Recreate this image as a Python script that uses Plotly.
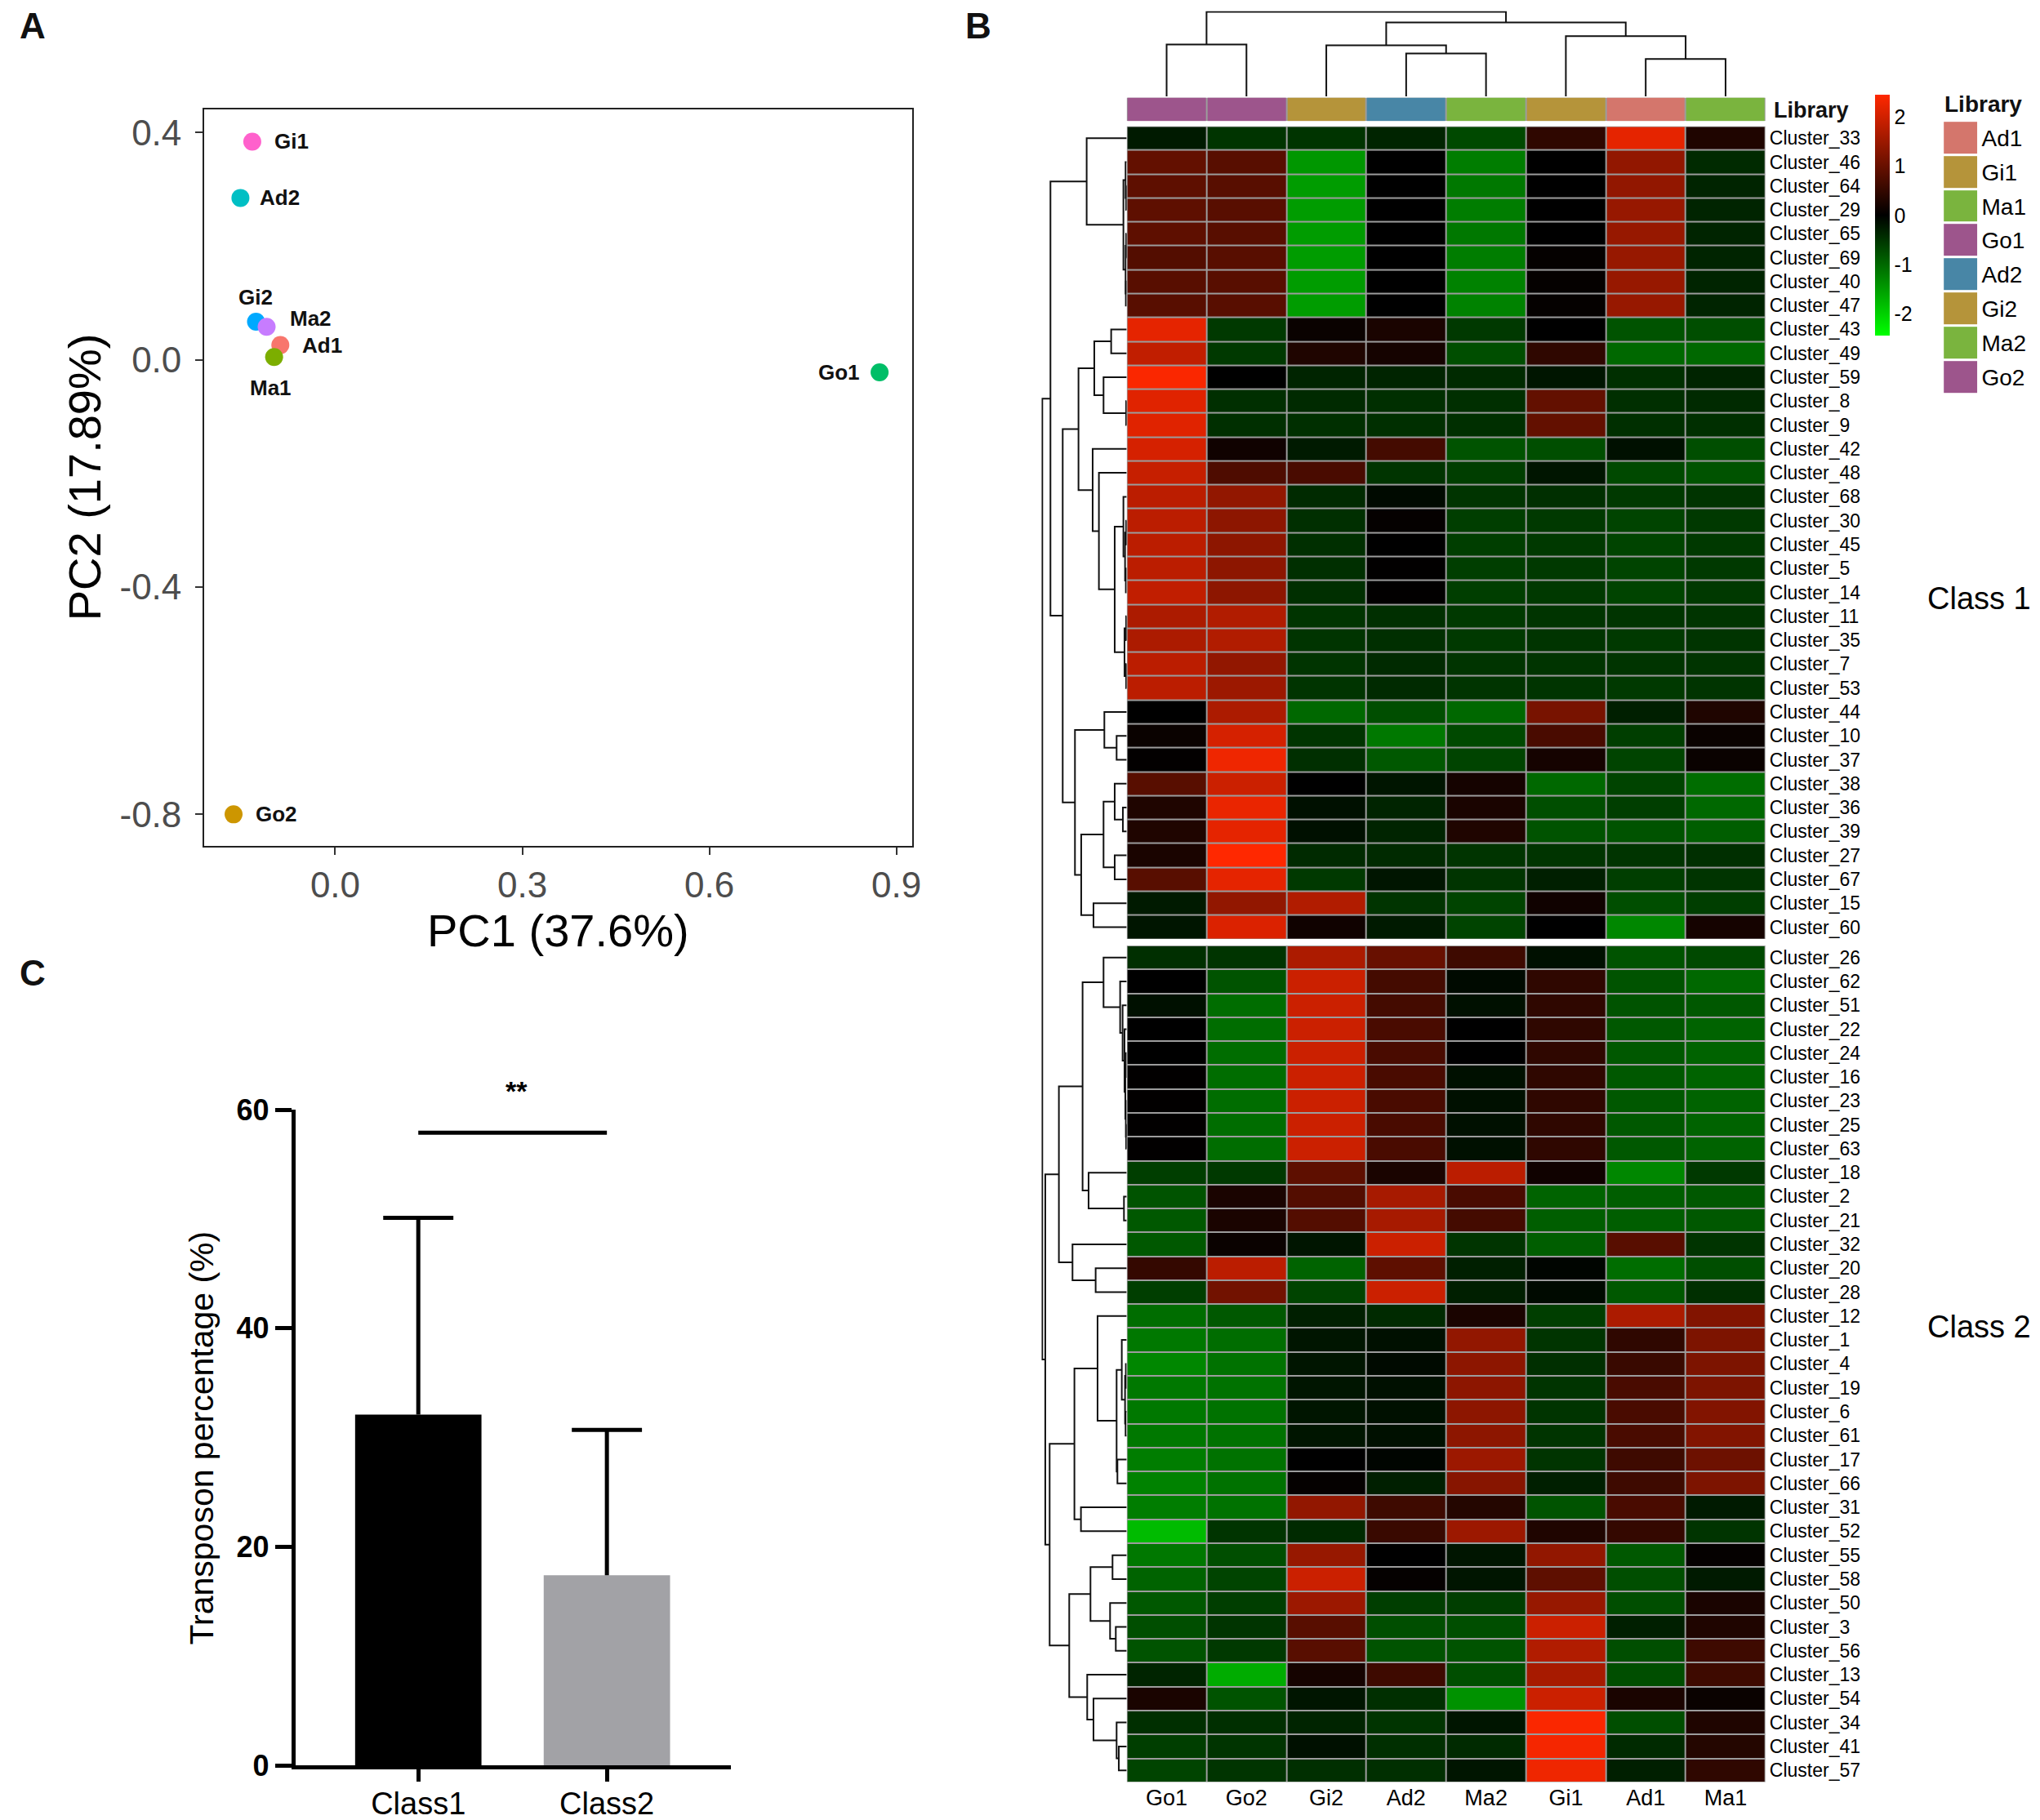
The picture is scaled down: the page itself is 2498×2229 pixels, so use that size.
import plotly.graph_objects as go

# ---------------------------------------------------------------- data

# A: PCA of the eight libraries
pca_names = ["Gi1", "Ad2", "Gi2", "Ma2", "Ad1", "Ma1", "Go1", "Go2"]
pc1 = [-0.133, -0.152, -0.127, -0.110, -0.088, -0.098, 0.873, -0.163]
pc2 = [0.384, 0.285, 0.067, 0.058, 0.026, 0.005, -0.022, -0.800]
pca_colors = ["#FF61CC", "#00BFC4", "#00A9FF", "#C77CFF",
              "#F8766D", "#7CAE00", "#00BE67", "#CD9600"]

# C: transposon percentage per class
bar_classes = ["Class1", "Class2"]
bar_means = [32.1, 17.4]
bar_sd = [18.0, 13.3]
bar_colors = ["#000000", "#A2A2A6"]
sig_level = 57.9
sig_text = "**"

# B: heatmap (row z-scores)
hm_columns = ["Go1", "Go2", "Gi2", "Ad2", "Ma2", "Gi1", "Ad1", "Ma1"]

class1_rows = ["Cluster_33", "Cluster_46", "Cluster_64", "Cluster_29", "Cluster_65",
               "Cluster_69", "Cluster_40", "Cluster_47", "Cluster_43", "Cluster_49",
               "Cluster_59", "Cluster_8", "Cluster_9", "Cluster_42", "Cluster_48",
               "Cluster_68", "Cluster_30", "Cluster_45", "Cluster_5", "Cluster_14",
               "Cluster_11", "Cluster_35", "Cluster_7", "Cluster_53", "Cluster_44",
               "Cluster_10", "Cluster_37", "Cluster_38", "Cluster_36", "Cluster_39",
               "Cluster_27", "Cluster_67", "Cluster_15", "Cluster_60"]
class1_z = [
    [-0.25, -0.5, -0.5, -0.35, -0.7, 0.45, 2.2, 0.3],
    [0.95, 0.85, -1.45, 0.0, -1.2, 0.0, 1.4, -0.4],
    [0.9, 0.85, -1.5, 0.0, -1.15, 0.0, 1.4, -0.35],
    [0.9, 0.85, -1.5, 0.0, -1.2, 0.0, 1.45, -0.35],
    [0.9, 0.85, -1.5, 0.0, -1.15, 0.0, 1.45, -0.35],
    [0.8, 0.85, -1.5, 0.0, -1.2, 0.05, 1.45, -0.35],
    [0.85, 0.85, -1.5, 0.0, -1.25, 0.05, 1.45, -0.35],
    [0.85, 0.85, -1.5, 0.0, -1.25, 0.05, 1.45, -0.35],
    [2.2, -0.55, 0.1, 0.25, -0.55, 0.0, -0.8, -0.75],
    [1.85, -0.55, 0.3, 0.2, -0.75, 0.45, -1.0, -1.0],
    [2.4, 0.0, -0.35, -0.35, -0.4, -0.2, -0.45, -0.35],
    [2.15, -0.45, -0.4, -0.45, -0.45, 0.95, -0.45, -0.4],
    [2.15, -0.45, -0.45, -0.45, -0.45, 0.95, -0.45, -0.45],
    [2.05, 0.15, -0.25, 0.65, -0.8, -0.75, -0.15, -0.75],
    [1.9, 0.75, 0.7, -0.5, -0.6, -0.2, -0.7, -0.8],
    [1.8, 1.4, -0.4, -0.1, -0.5, -0.45, -0.55, -0.5],
    [1.8, 1.35, -0.45, 0.05, -0.6, -0.55, -0.65, -0.55],
    [1.8, 1.35, -0.45, 0.0, -0.6, -0.55, -0.65, -0.55],
    [1.8, 1.35, -0.45, 0.02, -0.6, -0.55, -0.65, -0.55],
    [1.85, 1.35, -0.45, 0.02, -0.6, -0.55, -0.65, -0.55],
    [1.65, 1.7, -0.5, -0.45, -0.55, -0.5, -0.5, -0.5],
    [1.65, 1.7, -0.5, -0.45, -0.55, -0.5, -0.55, -0.5],
    [1.8, 1.4, -0.5, -0.4, -0.5, -0.5, -0.5, -0.5],
    [1.8, 1.5, -0.5, -0.4, -0.5, -0.5, -0.55, -0.5],
    [0.0, 1.65, -1.0, -0.75, -1.0, 1.15, -0.3, 0.3],
    [0.1, 2.05, -0.5, -1.15, -0.7, 0.7, -0.6, 0.1],
    [0.03, 2.3, -0.45, -0.85, -0.65, 0.2, -0.65, 0.1],
    [0.85, 1.95, 0.0, -0.2, 0.2, -1.0, -0.65, -1.05],
    [0.3, 2.25, -0.15, -0.35, 0.25, -0.75, -0.6, -1.0],
    [0.3, 2.2, -0.15, -0.35, 0.3, -0.8, -0.8, -0.9],
    [0.25, 2.45, -0.4, -0.4, -0.5, -0.5, -0.5, -0.45],
    [0.85, 2.2, -0.55, -0.2, -0.5, -0.3, -0.6, -0.5],
    [-0.25, 1.4, 1.7, -0.5, -0.65, 0.15, -0.75, -0.6],
    [-0.2, 2.1, 0.15, -0.25, -0.65, 0.0, -1.3, 0.2],
]

class2_rows = ["Cluster_26", "Cluster_62", "Cluster_51", "Cluster_22", "Cluster_24",
               "Cluster_16", "Cluster_23", "Cluster_25", "Cluster_63", "Cluster_18",
               "Cluster_2", "Cluster_21", "Cluster_32", "Cluster_20", "Cluster_28",
               "Cluster_12", "Cluster_1", "Cluster_4", "Cluster_19", "Cluster_6",
               "Cluster_61", "Cluster_17", "Cluster_66", "Cluster_31", "Cluster_52",
               "Cluster_55", "Cluster_58", "Cluster_50", "Cluster_3", "Cluster_56",
               "Cluster_13", "Cluster_54", "Cluster_34", "Cluster_41", "Cluster_57"]
class2_z = [
    [-0.45, -0.5, 1.65, 1.0, 0.6, -0.15, -0.8, -0.7],
    [0.0, -0.8, 1.95, 0.65, -0.1, 0.45, -0.8, -1.0],
    [-0.15, -1.05, 1.95, 0.65, -0.15, 0.45, -0.8, -0.85],
    [0.0, -1.05, 1.95, 0.7, 0.0, 0.45, -0.85, -0.95],
    [0.0, -1.05, 1.95, 0.7, 0.0, 0.45, -0.85, -0.95],
    [0.02, -1.05, 1.95, 0.7, -0.15, 0.45, -0.85, -0.95],
    [0.02, -1.05, 1.95, 0.7, -0.15, 0.45, -0.85, -0.95],
    [0.02, -1.05, 1.95, 0.7, -0.15, 0.45, -0.85, -0.95],
    [0.02, -1.05, 1.95, 0.7, -0.15, 0.45, -0.85, -0.95],
    [-0.6, -0.55, 0.9, 0.25, 1.8, 0.15, -1.3, -0.55],
    [-0.8, 0.25, 0.8, 1.6, 0.7, -0.95, -0.9, -0.85],
    [-0.85, 0.25, 0.8, 1.6, 0.65, -0.9, -0.9, -0.85],
    [-0.85, 0.1, -0.2, 1.95, -0.5, -0.9, 0.85, -0.5],
    [0.5, 1.8, -0.95, 0.9, -0.3, -0.05, -1.05, -0.75],
    [-0.6, 1.1, -0.65, 1.95, -0.3, -0.1, -0.85, -0.45],
    [-1.05, -0.85, -0.3, -0.4, 0.25, -0.6, 1.65, 1.25],
    [-1.15, -1.05, -0.2, -0.15, 1.4, -0.5, 0.45, 1.2],
    [-1.3, -1.1, -0.2, -0.1, 1.35, -0.45, 0.55, 1.2],
    [-1.15, -1.1, -0.2, -0.15, 1.35, -0.5, 0.7, 1.2],
    [-1.15, -1.1, -0.2, -0.15, 1.35, -0.5, 0.7, 1.25],
    [-1.15, -1.1, -0.2, -0.15, 1.35, -0.5, 0.7, 1.25],
    [-1.2, -1.1, 0.0, -0.05, 1.5, -0.5, 0.6, 1.05],
    [-1.25, -1.1, 0.05, -0.3, 1.3, -0.3, 0.6, 1.2],
    [-1.2, -1.1, 1.4, 0.6, 0.35, -0.8, 0.7, -0.25],
    [-1.8, -0.5, -0.4, 0.55, 1.5, 0.3, 0.5, -0.5],
    [-1.15, -0.75, 1.45, 0.0, -0.2, 1.4, -0.85, 0.05],
    [-0.95, -0.65, 1.95, 0.05, -0.2, 0.9, -0.75, -0.25],
    [-0.85, -0.6, 1.5, -0.6, -0.6, 1.45, -0.75, 0.25],
    [-0.75, -0.5, 0.85, -0.75, -0.75, 1.95, -0.3, 0.3],
    [-0.8, -0.55, 0.85, -0.8, -0.8, 1.7, -0.75, 0.6],
    [-0.35, -1.65, 0.2, 0.6, -0.75, 1.6, -0.75, 0.6],
    [0.25, -0.8, -0.2, -0.45, -1.4, 1.95, 0.25, 0.1],
    [-0.45, -0.45, -0.35, -0.5, -0.2, 2.4, -0.75, 0.3],
    [-0.6, -0.5, -0.15, -0.45, -0.4, 2.35, -0.4, 0.35],
    [-0.65, -0.5, -0.45, -0.45, -0.2, 2.3, -0.3, 0.45],
]

library_colors = {"Ad1": "#D4766C", "Gi1": "#B5943A", "Ma1": "#7AB43E", "Go1": "#9D558C",
                  "Ad2": "#4886A6", "Gi2": "#B5943A", "Ma2": "#7AB43E", "Go2": "#9D558C"}
legend_order = ["Ad1", "Gi1", "Ma1", "Go1", "Ad2", "Gi2", "Ma2", "Go2"]

# dendrograms: (merge height, left, right); leaves are library / cluster ids
col_tree = (305, (187, "Go1", "Go2"),
            (267, (184, "Gi2", (155, "Ad2", "Ma2")), (217, "Gi1", (135, "Ad1", "Ma1"))))

tree_class1 = (280,
               (147, "33", (12, (4, "46", (2, "64", "29")), (4, (2, "65", "69"), (3, "40", "47")))),
               (235,
                (177,
                 (119, (57, "43", "49"), (85, "59", (2, "8", "9"))),
                 (125, "42", (102, "48", (44, (12, "68", (6, (2, "30", "45"), (3, "5", "14"))),
                                          (8, (2, "11", "35"), (2, "7", "53")))))),
                (190, (82, "44", (37, "10", "37")),
                 (167, (85, (44, "38", (14, "36", "39")), (44, "27", "67")), (122, "15", "60")))))

tree_class2 = (299,
               (249,
                (162,
                 (85, "26", (24, "62", (15, "51", (8, "22", (5, (3, "24", "16"),
                                                            (3, "23", (2, "25", "63"))))))),
                 (140, "18", (10, "2", "21"))),
                (199, "32", (114, "20", "28"))),
               (283,
                (192, (107, "12", (37, (18, "1", (6, (3, "4", "19"), (4, "6", "61"))), (34, "17", "66"))),
                 (168, "31", "52")),
                (211, (133, (52, "55", "58"), (61, "50", (40, "3", "56"))),
                 (145, "13", (122, "54", (37, "34", (29, "41", "57")))))))

row_root_height = 310

# ---------------------------------------------------------------- helpers

SW, SH = 1568, 1399  # layout measured on the reduced picture


def px(x):
    return x / SW


def py(y):
    return 1 - y / SH


def dendro(node, pos):
    """returns centre, height and U-shaped segments of a (sub)tree"""
    if isinstance(node, str):
        return pos[node], 0.0, [], []
    h, left, right = node
    c1, h1, a1, b1 = dendro(left, pos)
    c2, h2, a2, b2 = dendro(right, pos)
    a = a1 + a2 + [c1, c1, c2, c2, None]
    b = b1 + b2 + [h1, h, h, h2, None]
    return (c1 + c2) / 2, h, a, b


FONT = "Liberation Sans, Arial, sans-serif"
GRID_GREY = "#9C9C9C"
BLOCK_GAP = 0.27   # white gap between the two classes, in rows

fig = go.Figure()

# ---------------------------------------------------------------- A: PCA
fig.add_trace(go.Scatter(
    x=pc1, y=pc2, mode="markers",
    marker=dict(size=22, color=pca_colors, line=dict(width=0)),
    xaxis="x", yaxis="y", showlegend=False, hoverinfo="skip"))

label_place = {"Gi1": ("left", 25, 0), "Ad2": ("left", 22, 0), "Gi2": ("center", 0, 30),
               "Ma2": ("left", 27, 10), "Ad1": ("left", 25, 0), "Ma1": ("center", -4, -38),
               "Go1": ("right", -22, 0), "Go2": ("left", 25, 0)}
for name, x, y in zip(pca_names, pc1, pc2):
    anchor, dx, dy = label_place[name]
    fig.add_annotation(x=x, y=y, xref="x", yref="y", text="<b>%s</b>" % name, showarrow=False,
                       xanchor=anchor, yanchor="middle", xshift=dx, yshift=dy,
                       font=dict(size=26, color="#111111", family=FONT))

# ---------------------------------------------------------------- C: bars
bar_x = list(range(len(bar_classes)))
fig.add_trace(go.Bar(
    x=bar_x, y=bar_means, width=0.67,
    marker=dict(color=bar_colors, line=dict(width=0)),
    xaxis="x2", yaxis="y2", showlegend=False, hoverinfo="skip"))

# upper-only error bars: stem from the bar top plus a cap
cap = 0.186
ex, ey = [], []
for xc, m, s in zip(bar_x, bar_means, bar_sd):
    ex += [xc, xc, None, xc - cap, xc + cap, None]
    ey += [m, m + s, None, m + s, m + s, None]
fig.add_trace(go.Scatter(x=ex, y=ey, mode="lines", line=dict(color="black", width=5),
                         xaxis="x2", yaxis="y2", showlegend=False, hoverinfo="skip",
                         cliponaxis=False))

fig.add_shape(type="line", xref="x2", yref="y2", x0=bar_x[0], x1=bar_x[1],
              y0=sig_level, y1=sig_level, line=dict(color="black", width=5))
fig.add_annotation(x=0.52, y=sig_level, xref="x2", yref="y2", text="<b>" + sig_text + "</b>",
                   showarrow=False, yanchor="bottom", yshift=30,
                   font=dict(size=34, color="black", family=FONT))

# ---------------------------------------------------------------- B: heatmap
n1, n2 = len(class1_rows), len(class2_rows)
y1 = [i + 0.5 for i in range(n1)]
y2 = [n1 + BLOCK_GAP + j + 0.5 for j in range(n2)]
y_total = n1 + BLOCK_GAP + n2
cols_x = list(range(len(hm_columns)))

for z, yy in ((class1_z, y1), (class2_z, y2)):
    fig.add_trace(go.Heatmap(z=z, x=cols_x, y=yy, coloraxis="coloraxis",
                             xgap=2, ygap=2, xaxis="x3", yaxis="y3", hoverinfo="skip"))
    fig.add_shape(type="rect", xref="x3", yref="y3", x0=-0.5, x1=len(hm_columns) - 0.5,
                  y0=yy[0] - 0.5, y1=yy[-1] + 0.5, fillcolor=GRID_GREY,
                  line=dict(width=0), layer="below")

# column annotation bar
ann_colors = [library_colors[c] for c in hm_columns]
ncol = len(hm_columns)
fig.add_trace(go.Heatmap(
    z=[cols_x], x=cols_x, y=[0], zmin=0, zmax=ncol - 1, showscale=False,
    colorscale=[[k / (ncol - 1), c] for k, c in enumerate(ann_colors)],
    xgap=2, xaxis="x4", yaxis="y4", hoverinfo="skip"))
fig.add_shape(type="rect", xref="x4", yref="y4", x0=-0.5, x1=ncol - 0.5, y0=-0.5, y1=0.5,
              fillcolor=GRID_GREY, line=dict(width=0), layer="below")

# column dendrogram
col_pos = {c: i for i, c in enumerate(hm_columns)}
_, _, dx_, dy_ = dendro(col_tree, col_pos)
fig.add_trace(go.Scatter(x=dx_, y=dy_, mode="lines", line=dict(color="#111111", width=2),
                         xaxis="x5", yaxis="y5", showlegend=False, hoverinfo="skip"))

# row dendrogram
row_pos = {r.split("_")[1]: v for r, v in zip(class1_rows + class2_rows, y1 + y2)}
_, _, rx, ry = dendro((row_root_height, tree_class1, tree_class2), row_pos)
fig.add_trace(go.Scatter(x=ry, y=rx, mode="lines", line=dict(color="#111111", width=2),
                         xaxis="x6", yaxis="y6", showlegend=False, hoverinfo="skip"))

# library legend
nleg = len(legend_order)
fig.add_trace(go.Heatmap(
    z=[[k] for k in range(nleg)], x=[0], y=list(range(nleg)), zmin=0, zmax=nleg - 1,
    showscale=False, ygap=3,
    colorscale=[[k / (nleg - 1), library_colors[c]] for k, c in enumerate(legend_order)],
    xaxis="x7", yaxis="y7", hoverinfo="skip"))

# ---------------------------------------------------------------- layout
hidden = dict(visible=False, showgrid=False, zeroline=False, fixedrange=True, automargin=False)
hm_xdom = [px(866), px(1357)]
hm_ydom = [py(1370), py(97)]

fig.update_layout(
    template="none",
    width=2498, height=2229, margin=dict(l=0, r=0, t=0, b=0, autoexpand=False),
    paper_bgcolor="white", plot_bgcolor="white",
    font=dict(family=FONT, color="black"),
    showlegend=False,
    # A
    xaxis=dict(domain=[px(157), px(701)], range=[-0.21, 0.925], anchor="y",
               tickvals=[0.0, 0.3, 0.6, 0.9], ticktext=["0.0", "0.3", "0.6", "0.9"],
               showline=True, mirror=True, linecolor="#222222", linewidth=2,
               ticks="outside", ticklen=9, tickwidth=2, tickcolor="#333333",
               tickfont=dict(size=44, color="#4D4D4D"), showgrid=False, zeroline=False,
               automargin=False),
    yaxis=dict(domain=[py(650), py(84)], range=[-0.855, 0.441], anchor="x",
               tickvals=[-0.8, -0.4, 0.0, 0.4], ticktext=["-0.8", "-0.4", "0.0", "0.4"],
               showline=True, mirror=True, linecolor="#222222", linewidth=2,
               ticks="outside", ticklen=9, tickwidth=2, tickcolor="#333333",
               tickfont=dict(size=44, color="#4D4D4D"), showgrid=False, zeroline=False,
               ticklabelstandoff=8, automargin=False),
    # C
    xaxis2=dict(domain=[px(227), px(562)], range=[-0.652, 1.659], anchor="y2",
                tickvals=bar_x, ticktext=bar_classes,
                showline=True, linecolor="black", linewidth=5,
                ticks="outside", ticklen=15, tickwidth=5, tickcolor="black",
                tickfont=dict(size=38, color="black"), showgrid=False, zeroline=False,
                ticklabelstandoff=-6, automargin=False),
    yaxis2=dict(domain=[py(1357), py(853)], range=[0, 60], anchor="x2",
                tickvals=[0, 20, 40, 60], ticktext=["<b>%d</b>" % v for v in (0, 20, 40, 60)],
                showline=True, linecolor="black", linewidth=5,
                ticks="outside", ticklen=20, tickwidth=5, tickcolor="black",
                tickfont=dict(size=36, color="black"), showgrid=False, zeroline=False,
                automargin=False),
    # B heatmap
    xaxis3=dict(domain=hm_xdom, range=[-0.5, ncol - 0.5], anchor="y3",
                tickvals=cols_x, ticktext=hm_columns, ticks="", showline=False,
                showgrid=False, zeroline=False, tickfont=dict(size=27), automargin=False),
    yaxis3=dict(domain=hm_ydom, range=[y_total, 0], anchor="x3", side="right",
                tickvals=y1 + y2, ticktext=class1_rows + class2_rows, ticks="",
                showline=False, showgrid=False, zeroline=False,
                tickfont=dict(size=23), ticklabelstandoff=4, automargin=False),
    xaxis4=dict(domain=hm_xdom, range=[-0.5, ncol - 0.5], anchor="y4", **hidden),
    yaxis4=dict(domain=[py(93), py(75)], range=[-0.5, 0.5], anchor="x4", **hidden),
    xaxis5=dict(domain=hm_xdom, range=[-0.5, ncol - 0.5], anchor="y5", **hidden),
    yaxis5=dict(domain=[py(74), py(8.5)], range=[0, col_tree[0] + 3], anchor="x5", **hidden),
    xaxis6=dict(domain=[px(800.5), px(866)], range=[row_root_height + 3, 0], anchor="y6", **hidden),
    yaxis6=dict(domain=hm_ydom, range=[y_total, 0], anchor="x6", **hidden),
    xaxis7=dict(domain=[px(1494), px(1520)], range=[-0.5, 0.5], anchor="y7", **hidden),
    yaxis7=dict(domain=[py(303), py(93)], range=[nleg - 0.5, -0.5], anchor="x7",
                side="right", tickvals=list(range(nleg)), ticktext=legend_order,
                ticks="", showline=False, showgrid=False, zeroline=False,
                tickfont=dict(size=28), ticklabelstandoff=4, automargin=False),
    coloraxis=dict(
        cmin=-2.45, cmax=2.45,
        colorscale=[[0.0, "#00FF00"], [0.5, "#000000"], [1.0, "#FF2800"]],
        colorbar=dict(x=px(1441), xanchor="left", y=py(73), yanchor="top",
                      len=185 / SH, lenmode="fraction", thickness=18,
                      xpad=0, ypad=0, outlinewidth=0,
                      tickvals=[-2, -1, 0, 1, 2], ticktext=["-2", "-1", "0", "1", "2"],
                      ticks="", tickfont=dict(size=25, color="black"))),
)

# axis titles and panel texts
texts = [
    ("A", px(25), py(20), 0, 44, True, "center"),
    ("B", px(752), py(20), 0, 44, True, "center"),
    ("C", px(25), py(748), 0, 44, True, "center"),
    ("PC1 (37.6%)", px(429), py(715), 0, 56, False, "center"),
    ("PC2 (17.89%)", px(65), py(367), -90, 56, False, "center"),
    ("Transposon percentage (%)", px(155), py(1105), -90, 41, False, "center"),
    ("Library", px(1362), py(85), 0, 27, True, "left"),
    ("Library", px(1493), py(80), 0, 28, True, "left"),
    ("Class 1", px(1521), py(460), 0, 38, False, "center"),
    ("Class 2", px(1521), py(1020), 0, 38, False, "center"),
]
for t, x, y, ang, size, bold, anchor in texts:
    fig.add_annotation(x=x, y=y, xref="paper", yref="paper", showarrow=False,
                       text="<b>%s</b>" % t if bold else t, textangle=ang,
                       xanchor=anchor, yanchor="middle",
                       font=dict(size=size, color="#111111" if bold else "black", family=FONT))

# the page keeps the figure flush with the window corner, without the mode bar
fig.write_html("out.html", config={"displayModeBar": False},
               post_script="document.body.style.margin='0px';")
